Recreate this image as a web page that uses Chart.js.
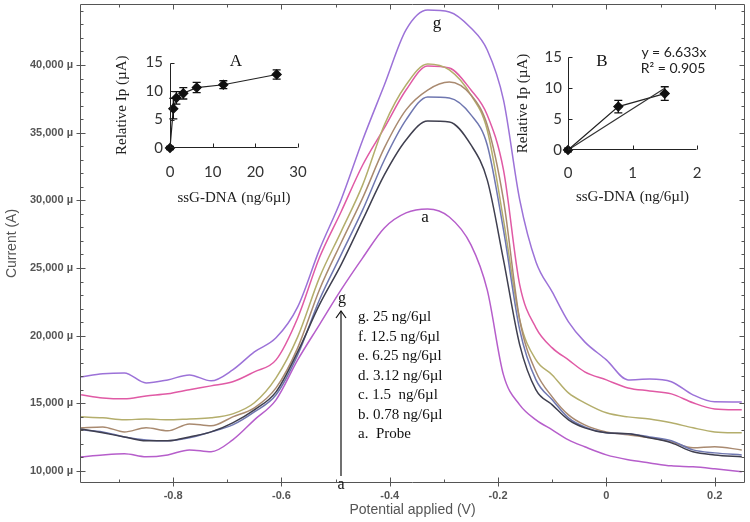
<!DOCTYPE html>
<html>
<head>
<meta charset="utf-8">
<script src="https://cdn.jsdelivr.net/npm/chart.js@4.4.1/dist/chart.umd.min.js"></script>
<style>
  body { margin: 0; background: #fff; }
  #wrap { position: relative; width: 750px; height: 522px; overflow: hidden; }
  canvas, svg { position: absolute; }
  .t { position: absolute; white-space: nowrap; line-height: 1; transform: translate(-50%, -50%); color: #111; }
  .serif { font-family: "Liberation Serif", serif; }
  .sans { font-family: Lato, "Open Sans", sans-serif; }
  .leg { position: absolute; left: 358px; font: 15px "Liberation Serif", serif; color: #111; line-height: 1; transform: translateY(-50%); white-space: nowrap; }
</style>
</head>
<body>
<div id="wrap">
  <canvas id="main" width="750" height="522" style="left:0;top:0"></canvas>
  <canvas id="insetA" width="215" height="180" style="left:100px;top:35px"></canvas>
  <canvas id="insetB" width="235" height="180" style="left:505px;top:30px"></canvas>

  <svg width="750" height="522" style="left:0;top:0">
    <line x1="341" y1="476" x2="341" y2="311" stroke="#111" stroke-width="1.2"/>
    <polyline points="336,318 341,311 346,318" fill="none" stroke="#111" stroke-width="1.2"/>
  </svg>

  <div class="t serif" style="left:236px;top:60px;font-size:17px">A</div>
  <div class="t serif" style="left:602px;top:60px;font-size:17px">B</div>
  <div class="t sans" style="left:674px;top:52px;font-size:14px;color:#222">y = 6.633x</div>
  <div class="t sans" style="left:673px;top:68px;font-size:14px;color:#222">R² = 0.905</div>
  <div class="t serif" style="left:437px;top:22px;font-size:17px">g</div>
  <div class="t serif" style="left:425px;top:216px;font-size:17px">a</div>
  <div class="t serif" style="left:342px;top:298px;font-size:16px">g</div>
  <div class="t serif" style="left:341px;top:484px;font-size:16px">a</div>

  <div class="leg" style="top:316px">g. 25 ng/6µl</div>
  <div class="leg" style="top:336px">f. 12.5 ng/6µl</div>
  <div class="leg" style="top:355px">e. 6.25 ng/6µl</div>
  <div class="leg" style="top:375px">d. 3.12 ng/6µl</div>
  <div class="leg" style="top:394px">c. 1.5&nbsp; ng/6µl</div>
  <div class="leg" style="top:414px">b. 0.78 ng/6µl</div>
  <div class="leg" style="top:433px">a.&nbsp; Probe</div>
</div>

<script>
/* ===== DATA ===== */
// potential (V) grid shared by all voltammograms
const potentials = [-0.97,-0.93,-0.89,-0.85,-0.81,-0.77,-0.73,-0.69,-0.65,-0.61,-0.57,-0.53,-0.49,-0.45,-0.41,-0.37,-0.33,-0.29,-0.25,-0.22,-0.19,-0.16,-0.13,-0.10,-0.07,-0.04,0.0,0.04,0.08,0.12,0.16,0.20,0.25];

// current (µA) per curve
const curveG = [16950,17180,17250,16510,16730,17100,16660,17470,18800,19840,22130,26340,30030,34460,38520,42590,44060,43920,42730,41110,37420,30030,25450,23230,21020,19540,18210,16730,16800,16600,15630,15110,15100];
const curveF = [15630,15400,15330,15550,15700,16000,16290,16590,17330,18210,21310,25750,29140,32610,35350,38150,39930,39780,38150,36310,32250,23750,20580,19100,18210,17330,16730,16140,15920,15700,15040,14590,14520];
const curveE = [14000,13930,13780,13850,13780,13850,13930,14220,15040,16880,19910,24270,27670,31140,35570,38520,40070,39630,37780,35200,28550,21170,18210,17100,15770,15040,14300,14000,13850,13560,13190,12890,12820];
const curveD = [13190,13260,12890,13190,12970,13480,13340,14000,14670,16140,19100,23380,26850,30180,33870,36680,38150,38740,37780,35570,30030,21170,17330,15480,14150,13410,12890,12670,12450,12150,11710,11790,11560];
const curveC = [13040,12890,12520,12300,12230,12450,12890,13410,14370,15630,18580,22640,25970,29290,32980,35940,37640,37560,36310,34090,27810,20430,16730,15260,13930,13260,12820,12750,12520,12230,11560,11340,11190];
const curveB = [13110,12820,12520,12230,12230,12520,12890,13560,14520,15850,18800,22270,25230,28550,31880,34460,35860,35790,34090,31510,25600,19320,16000,14890,13780,13190,12820,12750,12450,12080,11420,11190,11050];
const curveA = [11050,11190,11270,11050,11190,11560,11420,12300,13780,15260,18210,20800,23380,25750,27960,29070,29360,28770,26710,23380,17100,14890,13780,13040,12300,11790,11190,10830,10600,10380,10310,10160,9940];

const xTicks = [-0.8, -0.6, -0.4, -0.2, 0, 0.2];
const yTicks = [10000, 15000, 20000, 25000, 30000, 35000, 40000];

// inset A: full concentration range
const concA = [0, 0.78, 1.5, 3.12, 6.25, 12.5, 25];
const ipA = [0, 6.9, 8.8, 9.6, 10.6, 11.1, 12.9];
const errA = [0.3, 1.8, 1.1, 1.0, 0.9, 0.7, 0.8];

// inset B: linear range + trend line y = 6.633x
const concB = [0, 0.78, 1.5];
const ipB = [0, 7.0, 9.1];
const errB = [0.3, 1.0, 1.1];
const trendX = [0, 1.5];
const trendY = [0, 9.95];

const insetTicksY = [0, 5, 10, 15];
const insetTicksA = [0, 10, 20, 30];
const insetTicksB = [0, 1, 2];

/* ===== PLUGINS ===== */
// box frame with major/minor ticks on every side
const frameTicks = {
  id: "frameTicks",
  afterDraw(chart, args, o) {
    if (!o || !o.on) return;
    const { ctx, chartArea: a, scales: { x, y } } = chart;
    ctx.save();
    ctx.strokeStyle = o.color;
    ctx.lineWidth = 1;
    ctx.beginPath();
    const L = Math.round(a.left) + 0.5, R = Math.round(a.right) - 0.5;
    const T = Math.round(a.top) + 0.5, B = Math.round(a.bottom) - 0.5;
    if (o.box) {
      ctx.rect(L, T, R - L, B - T);
    } else {
      ctx.moveTo(L, T); ctx.lineTo(L, B); ctx.lineTo(R, B);
    }
    const xs = v => Math.round(x.getPixelForValue(v)) + 0.5;
    const ys = v => Math.round(y.getPixelForValue(v)) + 0.5;
    (o.xMajor || []).forEach(v => {
      const p = xs(v);
      ctx.moveTo(p, B + (o.out || 0)); ctx.lineTo(p, B - o.major);
      if (o.box) { ctx.moveTo(p, T); ctx.lineTo(p, T + o.major); }
    });
    (o.xMinor || []).forEach(v => {
      const p = xs(v);
      ctx.moveTo(p, B); ctx.lineTo(p, B - o.minor);
      if (o.box) { ctx.moveTo(p, T); ctx.lineTo(p, T + o.minor); }
    });
    (o.yMajor || []).forEach(v => {
      const p = ys(v);
      ctx.moveTo(L - (o.out || 0), p); ctx.lineTo(L + o.major, p);
      if (o.box) { ctx.moveTo(R, p); ctx.lineTo(R - o.major, p); }
    });
    (o.yMinor || []).forEach(v => {
      const p = ys(v);
      ctx.moveTo(L, p); ctx.lineTo(L + o.minor, p);
      if (o.box) { ctx.moveTo(R, p); ctx.lineTo(R - o.minor, p); }
    });
    ctx.stroke();
    ctx.restore();
  }
};

// vertical error bars with caps
const errorBars = {
  id: "errorBars",
  afterDatasetsDraw(chart) {
    const { ctx, scales: { x, y } } = chart;
    ctx.save();
    ctx.strokeStyle = "#111";
    ctx.lineWidth = 1.3;
    chart.data.datasets.forEach(ds => {
      if (!ds.errors) return;
      ds.data.forEach((pt, i) => {
        const e = ds.errors[i];
        const px = x.getPixelForValue(pt.x);
        const y1 = y.getPixelForValue(pt.y - e), y2 = y.getPixelForValue(pt.y + e);
        ctx.beginPath();
        ctx.moveTo(px, y1); ctx.lineTo(px, y2);
        ctx.moveTo(px - 4, y1); ctx.lineTo(px + 4, y1);
        ctx.moveTo(px - 4, y2); ctx.lineTo(px + 4, y2);
        ctx.stroke();
      });
    });
    ctx.restore();
  }
};

Chart.register(frameTicks, errorBars);

// keep the plot box exactly where the layout padding puts it
const noEdgePad = s => { s.paddingTop = 0; s.paddingBottom = 0; s.paddingLeft = 0; s.paddingRight = 0; };

/* ===== MAIN VOLTAMMOGRAMS ===== */
const series = [
  { label: "a", data: curveA, color: "#b65ecb" },
  { label: "b", data: curveB, color: "#3f3f4f" },
  { label: "c", data: curveC, color: "#6f77b0" },
  { label: "d", data: curveD, color: "#a98a70" },
  { label: "e", data: curveE, color: "#b4ae6c" },
  { label: "f", data: curveF, color: "#e05aa5" },
  { label: "g", data: curveG, color: "#9c72d8" }
];

const minorX = [];
for (let v = -0.9; v < 0.26; v += 0.2) minorX.push(Math.round(v * 10) / 10);
const minorY = [];
for (let v = 10000; v <= 44000; v += 1000) if (v % 5000) minorY.push(v);

const greyFont = { family: "Liberation Sans, Arial, sans-serif", size: 11, weight: "bold" };
const titleGrey = { family: "Liberation Sans, Arial, sans-serif", size: 14 };

new Chart(document.getElementById("main"), {
  type: "scatter",
  data: {
    datasets: series.map(s => ({
      label: s.label,
      data: potentials.map((p, i) => ({ x: p, y: s.data[i] })),
      showLine: true,
      borderColor: s.color,
      borderWidth: 1.5,
      pointRadius: 0,
      cubicInterpolationMode: "monotone"
    }))
  },
  options: {
    responsive: false,
    animation: false,
    layout: { padding: { left: 0, right: 5, top: 4, bottom: 0 } },
    plugins: {
      legend: { display: false },
      tooltip: { enabled: false },
      frameTicks: {
        on: true, box: true, color: "#555",
        xMajor: xTicks, xMinor: minorX, yMajor: yTicks, yMinor: minorY,
        major: 5, minor: 3, out: 4
      }
    },
    scales: {
      x: {
        type: "linear", min: -0.972, max: 0.256,
        grid: { display: false, drawTicks: false },
        border: { display: false },
        afterBuildTicks: s => { s.ticks = xTicks.map(v => ({ value: v })); },
        afterFit: s => { s.height = 39; noEdgePad(s); },
        ticks: {
          autoSkip: false, maxRotation: 0, padding: 6, color: "#555", font: greyFont,
          callback: v => String(Math.round(v * 10) / 10)
        },
        title: {
          display: true, text: "Potential applied (V)", color: "#555",
          font: titleGrey, padding: { top: 0, bottom: 3 }
        }
      },
      y: {
        min: 9114, max: 44505,
        grid: { display: false, drawTicks: false },
        border: { display: false },
        afterBuildTicks: s => { s.ticks = yTicks.map(v => ({ value: v })); },
        afterFit: s => { s.width = 80; noEdgePad(s); },
        ticks: {
          autoSkip: false, padding: 7, color: "#555", font: greyFont,
          callback: v => v.toLocaleString("en-US") + " µ"
        },
        title: {
          display: true, text: "Current (A)", color: "#555",
          font: titleGrey, padding: { top: 4, bottom: 0 }
        }
      }
    }
  }
});

/* ===== INSETS ===== */
function insetOptions(xMax, xTickVals, opt) {
  const tickFont = { family: "Lato, 'Open Sans', sans-serif", size: 15 };
  const titleFont = { family: "Liberation Serif, serif", size: 15 };
  return {
    responsive: false,
    animation: false,
    layout: { padding: { left: 0, right: opt.right, top: opt.top, bottom: 0 } },
    plugins: {
      legend: { display: false },
      tooltip: { enabled: false },
      frameTicks: {
        on: true, box: false, color: "#222",
        xMajor: xTickVals.slice(1), yMajor: insetTicksY.slice(1),
        major: 4, minor: 0, out: 0
      }
    },
    scales: {
      x: {
        type: "linear", min: 0, max: xMax,
        grid: { display: false, drawTicks: false },
        border: { display: false },
        afterBuildTicks: s => { s.ticks = xTickVals.map(v => ({ value: v })); },
        afterFit: s => { s.height = opt.xH; noEdgePad(s); },
        ticks: { autoSkip: false, maxRotation: 0, padding: opt.xPad, color: "#333", font: tickFont },
        title: {
          display: true, text: "ssG-DNA (ng/6µl)", color: "#222", font: titleFont,
          padding: { top: 0, bottom: opt.xTitlePad }
        }
      },
      y: {
        min: 0, max: 15,
        grid: { display: false, drawTicks: false },
        border: { display: false },
        afterBuildTicks: s => { s.ticks = insetTicksY.map(v => ({ value: v })); },
        afterFit: s => { s.width = opt.yW; noEdgePad(s); },
        ticks: { autoSkip: false, padding: opt.yPad, color: "#333", font: tickFont },
        title: {
          display: true, text: "Relative Ip (µA)", color: "#222", font: titleFont,
          padding: { top: opt.yTitlePad, bottom: 0 }
        }
      }
    }
  };
}

const pointStyleSet = {
  showLine: true,
  borderColor: "#222",
  borderWidth: 1.2,
  pointStyle: "rectRot",
  pointRadius: 4.5,
  pointBackgroundColor: "#111",
  pointBorderColor: "#111",
  clip: false
};

new Chart(document.getElementById("insetA"), {
  type: "scatter",
  data: {
    datasets: [Object.assign({
      data: concA.map((c, i) => ({ x: c, y: ipA[i] })),
      errors: errA
    }, pointStyleSet)]
  },
  options: insetOptions(30, insetTicksA,
    { right: 17, top: 27.5, xH: 67, xPad: 15, xTitlePad: 8, yW: 70, yPad: 7, yTitlePad: 13 })
});

new Chart(document.getElementById("insetB"), {
  type: "scatter",
  data: {
    datasets: [
      {
        data: trendX.map((c, i) => ({ x: c, y: trendY[i] })),
        showLine: true, borderColor: "#333", borderWidth: 1.2, pointRadius: 0, clip: false
      },
      Object.assign({
        data: concB.map((c, i) => ({ x: c, y: ipB[i] })),
        errors: errB
      }, pointStyleSet)
    ]
  },
  options: insetOptions(2, insetTicksB,
    { right: 43, top: 27, xH: 60, xPad: 14, xTitlePad: 4, yW: 63, yPad: 6, yTitlePad: 9 })
});
</script>
</body>
</html>
